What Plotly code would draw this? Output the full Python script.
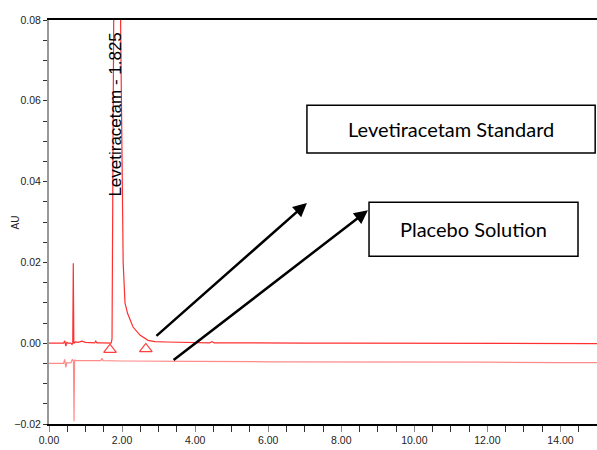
import plotly.graph_objects as go

# Levetiracetam standard chromatogram (time in min, absorbance in AU)
std_time = [0.00, 0.20, 0.40, 0.43, 0.46, 0.49, 0.53, 0.60, 0.63, 0.65, 0.665, 0.68, 0.72,
            0.80, 0.90, 1.00, 1.10, 1.25, 1.28, 1.31, 1.45, 1.60, 1.70, 1.725, 1.80, 1.90,
            1.963, 2.00, 2.03, 2.08, 2.15, 2.30, 2.49, 2.71, 2.90, 3.20, 3.60, 4.00, 4.40,
            4.46, 4.52, 5.00, 6.00, 7.00, 8.00, 9.00, 10.00, 11.00, 12.00, 13.00, 14.00, 15.00]
std_au = [0.0000, 0.0000, 0.0000, 0.0006, -0.0007, 0.0002, 0.0000, 0.0000, -0.0003, 0.0000,
          0.0198, 0.0000, 0.0003, 0.0002, 0.0005, 0.0002, 0.0001, 0.0001, 0.0005, 0.0001,
          0.0001, 0.0000, 0.0000, 0.0010, 0.1300, 0.1300, 0.0800, 0.0400, 0.0200, 0.0100,
          0.0074, 0.0040, 0.0020, 0.0007, 0.0004, 0.0003, 0.0002, 0.0001, 0.0001, 0.0004,
          0.0001, 0.0001, 0.0000, 0.0000, 0.0000, 0.0000, -0.0001, -0.0001, -0.0001,
          -0.0001, -0.0001, -0.0001]

# Placebo solution chromatogram (offset baseline)
pla_time = [0.00, 0.20, 0.40, 0.43, 0.46, 0.49, 0.53, 0.60, 0.64, 0.67, 0.685, 0.70, 0.75,
            0.90, 1.20, 1.42, 1.45, 1.48, 2.00, 3.00, 4.00, 6.00, 8.00, 10.00, 12.00, 14.00, 15.00]
pla_au = [-0.0050, -0.0050, -0.0050, -0.0040, -0.0060, -0.0048, -0.0049, -0.0048, -0.0040,
          -0.0045, -0.0193, -0.0042, -0.0043, -0.0043, -0.0043, -0.0043, -0.0037, -0.0043,
          -0.0044, -0.0045, -0.0045, -0.0046, -0.0046, -0.0047, -0.0047, -0.0048, -0.0048]

# Peak integration start/end markers
mark_time = [1.67, 2.65]
mark_au = [-0.0016, -0.0014]

peak_label = "Levetiracetam - 1.825"
peak_rt = 1.825
x_ticks = [0, 2, 4, 6, 8, 10, 12, 14]
y_ticks = [-0.02, 0.00, 0.02, 0.04, 0.06, 0.08]

fig = go.Figure()
fig.add_trace(go.Scatter(x=pla_time, y=pla_au, mode="lines",
                         line=dict(color="#ff8a8a", width=1.2), hoverinfo="skip"))
fig.add_trace(go.Scatter(x=std_time, y=std_au, mode="lines",
                         line=dict(color="#ff3030", width=1.2), hoverinfo="skip"))
fig.add_trace(go.Scatter(x=mark_time, y=mark_au, mode="markers",
                         marker=dict(symbol="triangle-up-open", size=11, color="#ff4040",
                                     line=dict(width=1.2, color="#ff4040")), hoverinfo="skip"))

tickfont = dict(family="Liberation Sans Narrow, Arial Narrow, Liberation Sans", size=10.5, color="#222")

fig.update_layout(
    width=597, height=450,
    margin=dict(l=49, r=0, t=20, b=26),
    paper_bgcolor="white", plot_bgcolor="white",
    showlegend=False,
    xaxis=dict(range=[0, 15], tickvals=x_ticks, tickformat=".2f", showgrid=False, zeroline=False,
               showline=True, linecolor="black", linewidth=1.5, mirror=True,
               ticks="outside", ticklen=6, tickcolor="#888", tickwidth=1, tickfont=tickfont,
               minor=dict(dtick=0.5, ticks="outside", ticklen=6, tickcolor="#333", tickwidth=1)),
    yaxis=dict(range=[-0.02, 0.08], tickvals=y_ticks, tickformat=".2f", showgrid=False, zeroline=False,
               showline=True, linecolor="#999", linewidth=2,
               ticks="outside", ticklen=4, tickcolor="#333", tickwidth=1, tickfont=tickfont,
               minor=dict(dtick=0.005, ticks="outside", ticklen=4, tickcolor="#333", tickwidth=1)),
)

# Y-axis title
fig.add_annotation(xref="paper", yref="paper", x=-0.075, y=0.5, text="AU", textangle=-90,
                   showarrow=False, font=dict(family="Liberation Sans", size=10, color="#222"))

# Peak label
fig.add_annotation(x=peak_rt, y=0.0565, text=peak_label, textangle=-90, showarrow=False,
                   font=dict(family="Liberation Sans", size=17, color="black"))

# Boxes
fig.add_shape(type="rect", x0=7.06, x1=14.95, y0=0.0471, y1=0.0589,
              line=dict(color="black", width=1.5), fillcolor="white")
fig.add_shape(type="rect", x0=8.76, x1=14.48, y0=0.0215, y1=0.0349,
              line=dict(color="black", width=1.5), fillcolor="white")
fig.add_annotation(x=(7.06 + 14.95) / 2, y=0.053, text="Levetiracetam Standard", showarrow=False,
                   font=dict(family="Lato", size=20, color="black"))
fig.add_annotation(x=(8.76 + 14.48) / 2, y=0.0282, text="Placebo Solution", showarrow=False,
                   font=dict(family="Lato", size=20, color="black"))

# Arrows
fig.add_annotation(x=7.06, y=0.0347, ax=2.90, ay=0.0015, xref="x", yref="y", axref="x", ayref="y",
                   text="", showarrow=True, arrowhead=2, arrowsize=1.1, arrowwidth=2.5, arrowcolor="black")
fig.add_annotation(x=8.73, y=0.0329, ax=3.37, ay=-0.00446, xref="x", yref="y", axref="x", ayref="y",
                   text="", showarrow=True, arrowhead=2, arrowsize=1.1, arrowwidth=2.5, arrowcolor="black")

fig.write_html("out.html")
